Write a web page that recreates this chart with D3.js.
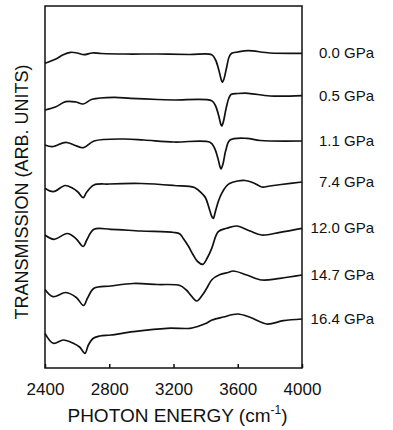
<!DOCTYPE html>
<html>
<head>
<meta charset="utf-8">
<script src="https://cdn.jsdelivr.net/npm/d3@7"></script>
<style>
  html, body { margin: 0; padding: 0; background: #fff; }
  svg text { font-family: "Liberation Sans", Arial, Helvetica, sans-serif; fill: #111; }
</style>
</head>
<body>
<svg id="chart" width="393" height="430"></svg>
<script>
// Pressure labels (one trace per pressure), top to bottom
const pressures = ["0.0 GPa", "0.5 GPa", "1.1 GPa", "7.4 GPa", "12.0 GPa", "14.7 GPa", "16.4 GPa"];
const xTicks = [2400, 2800, 3200, 3600, 4000];

// Photon energy (cm^-1) and transmission (arb. units, offset traces)
const e00 = [2400,2468,2510,2560,2600,2643,2693,2750,2900,3100,3300,3438,3462,3482,3496,3504,3514,3530,3546,3562,3600,3664,3801,4000];
const t00 = [304.7,309,313,315.7,315,313.3,315,314.5,314,314,313.5,313.3,308,298,289,285.7,289,300,311,314.7,316,317.3,315,314.7];

const e05 = [2400,2468,2529,2591,2638,2693,2830,2934,3100,3203,3438,3462,3482,3494,3500,3510,3528,3545,3560,3600,3666,3801,4000];
const t05 = [258,261.3,266.3,266,264,268.7,270.7,269.7,268.5,268,267.3,262,252,244,242,246,260,270,273.7,274.5,274.7,272,272.3];

const e11 = [2400,2445,2529,2581,2640,2705,2892,3016,3203,3427,3455,3476,3490,3496,3508,3526,3552,3656,3740,4000];
const t11 = [223,221.3,225.7,223,220.3,227,229,228,226,225.7,220,210,201,199,204,218,228,229.7,227.5,227];

const e74 = [2400,2452,2525,2570,2605,2638,2660,2705,2800,3000,3203,3330,3380,3400,3425,3440,3448,3460,3480,3500,3530,3552,3600,3646,3700,3750,3800,3870,4000];
const t74 = [179.7,176.3,182.5,180,176,170.3,176,183,184,184.5,182.5,180.5,174,170,158,151,149.7,156,167,174.7,182,184.7,187,187.5,185,181,182,183.5,186];

const e120 = [2400,2456,2539,2591,2638,2660,2705,2809,2996,3203,3240,3261,3292,3323,3350,3382,3410,3438,3479,3531,3593,3676,3749,3863,4000];
const t120 = [133,128.7,134.5,129.7,121.5,128,138.7,138.7,137,135.5,134,129.5,122,113,106.5,103.7,110,119.7,136.3,139.7,142,137,133,135.7,139.7];

const e147 = [2400,2450,2529,2595,2640,2665,2705,2809,2950,3100,3240,3280,3303,3344,3380,3407,3440,3490,3540,3572,3656,3749,3863,4000];
const t147 = [78.5,71.3,75.5,70.5,62.5,70,79.7,82,84.5,83.5,82.5,78,73.7,67,73,79.7,88.5,93.5,95.5,97,93,88,89.7,93];

const e164 = [2400,2452,2514,2576,2615,2649,2670,2701,2742,2809,2950,3158,3303,3350,3400,3440,3510,3600,3676,3780,3884,4000];
const t164 = [34.7,24.7,28,24.7,21,14.7,23,29.7,32,33,36.3,39.7,39.7,41.5,44.5,48,51,54,50.7,44,47.3,49];

const energies = [e00, e05, e11, e74, e120, e147, e164];
const trans = [t00, t05, t11, t74, t120, t147, t164];

const margin = {left: 45, top: 6, right: 91, bottom: 62};
const W = 393, H = 430;
const svg = d3.select("#chart");

const x = d3.scaleLinear().domain([2400, 4000]).range([margin.left, W - margin.right]);
const y = d3.scaleLinear().domain([0, 362]).range([H - margin.bottom, margin.top]);

const line = d3.line()
  .x(d => x(d[0]))
  .y(d => y(d[1]))
  .curve(d3.curveCatmullRom.alpha(0.5));

const g = svg.append("g");

trans.forEach((vals, i) => {
  const pts = energies[i].map((e, j) => [e, vals[j]]);
  g.append("path")
    .datum(pts)
    .attr("fill", "none")
    .attr("stroke", "#111")
    .attr("stroke-width", 1.7)
    .attr("stroke-linejoin", "round")
    .attr("d", line);
  svg.append("text")
    .attr("x", x(4000) + 72)
    .attr("y", y(vals[vals.length - 1]) + 1)
    .attr("text-anchor", "end")
    .attr("dominant-baseline", "middle")
    .attr("font-size", 15)
    .text(pressures[i]);
});

// frame
svg.append("rect")
  .attr("x", x(2400)).attr("y", y(362))
  .attr("width", x(4000) - x(2400))
  .attr("height", y(0) - y(362))
  .attr("fill", "none")
  .attr("stroke", "#111")
  .attr("stroke-width", 1.5);

// bottom axis, inward ticks
const ax = svg.append("g")
  .attr("transform", `translate(0,${y(0)})`)
  .call(d3.axisBottom(x).tickValues(xTicks).tickFormat(d3.format("d")).tickSize(-4).tickPadding(15));
ax.select(".domain").remove();
ax.selectAll("line").attr("stroke", "#111").attr("stroke-width", 1.5);
ax.selectAll("text").attr("font-size", 17).attr("font-family", "'Liberation Sans', Arial, sans-serif").attr("fill", "#111");

// x label
const xl = svg.append("text")
  .attr("x", (x(2400) + x(4000)) / 2 + 4)
  .attr("y", 422)
  .attr("text-anchor", "middle")
  .attr("font-size", 19);
xl.append("tspan").text("PHOTON ENERGY (cm");
xl.append("tspan").attr("font-size", 12).attr("dy", -8).text("-1");
xl.append("tspan").attr("dy", 8).text(")");

// y label
svg.append("text")
  .attr("transform", `translate(28,${(y(0) + y(362)) / 2 + 5}) rotate(-90)`)
  .attr("text-anchor", "middle")
  .attr("font-size", 18)
  .text("TRANSMISSION (ARB. UNITS)");
</script>
</body>
</html>
